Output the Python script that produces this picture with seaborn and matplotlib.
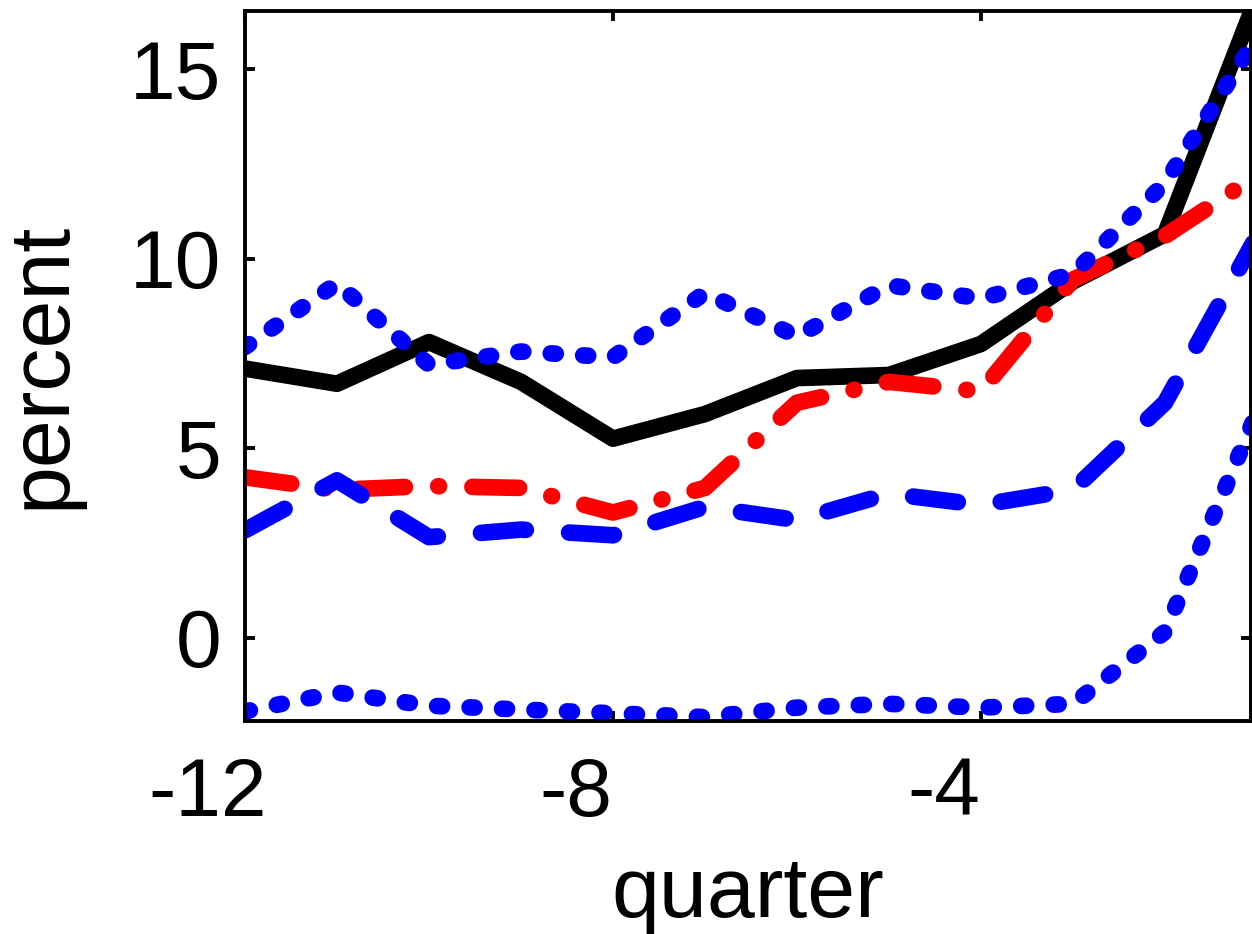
import pandas as pd
import seaborn as sns
import matplotlib.transforms as mtransforms
from matplotlib import pyplot as plt

# quarters before the event and the five series (percent)
quarters = [-12, -11, -10, -9, -8, -7, -6, -5, -4, -3, -2, -1]
black_solid = [7.1, 6.7, 7.8, 6.75, 5.25, 5.9, 6.85, 6.93, 7.75, 9.4, 10.65, 16.9]
red_dashdot = [4.23, 3.9, 4.0, 3.95, 3.3, 3.95, 6.2, 6.75, 6.5, 9.45, 10.6, 12.2]
blue_dashed = [2.83, 4.15, 2.65, 2.85, 2.7, 3.45, 3.1, 3.8, 3.5, 3.9, 6.2, 10.6]
blue_upper = [7.67, 9.35, 7.2, 7.55, 7.4, 9.1, 7.95, 9.3, 8.95, 9.6, 12.0, 15.85]
blue_lower = [-1.95, -1.45, -1.8, -1.9, -2.0, -2.1, -1.85, -1.75, -1.85, -1.75, 0.15, 5.95]

series = {'black': black_solid, 'red': red_dashdot, 'dashed': blue_dashed,
          'upper': blue_upper, 'lower': blue_lower}
df = pd.concat([pd.DataFrame({'quarter': quarters, 'value': v, 'series': k})
                for k, v in series.items()], ignore_index=True)

colors = {'black': 'black', 'red': '#ff0000', 'dashed': '#0000ff',
          'upper': '#0000ff', 'lower': '#0000ff'}
dashes = {'black': '', 'red': (2.8, 2.0, 0.05, 2.0), 'dashed': (2.7, 2.6),
          'upper': (0.3, 1.65), 'lower': (0.3, 1.65)}

sns.set_style('ticks')
plt.rcParams['font.family'] = ['Liberation Sans', 'DejaVu Sans']
plt.rcParams['axes.unicode_minus'] = False
plt.rcParams['text.color'] = 'black'
plt.rcParams['axes.labelcolor'] = 'black'
plt.rcParams['axes.edgecolor'] = 'black'
plt.rcParams['xtick.color'] = 'black'
plt.rcParams['ytick.color'] = 'black'
plt.rcParams['lines.dash_capstyle'] = 'round'
plt.rcParams['lines.solid_capstyle'] = 'round'
plt.rcParams['lines.dash_joinstyle'] = 'round'
plt.rcParams['lines.solid_joinstyle'] = 'round'

fig = plt.figure(figsize=(12.52, 9.34), dpi=100)
ax = fig.add_axes([245/1252, 1 - 720.5/934, 1006/1252, 709.5/934])

sns.lineplot(data=df, x='quarter', y='value', hue='series', style='series',
             hue_order=list(series), style_order=list(series),
             palette=colors, dashes=dashes, linewidth=12, legend=False, ax=ax)

ax.set_xlim(-12, -1.065)
ax.set_ylim(-2.19, 16.54)
ax.set_xticks([-12, -8, -4])
ax.set_yticks([0, 5, 10, 15])
ax.tick_params(direction='in', length=7, width=2.8, labelsize=59,
               top=True, right=True)
ax.tick_params(axis='x', pad=26)
ax.tick_params(axis='y', pad=17)
for s in ax.spines.values():
    s.set_linewidth(2.8)
    s.set_visible(True)

# x tick labels sit a little left of their ticks in the original
shift = mtransforms.ScaledTranslation(-0.37, 0, fig.dpi_scale_trans)
for lab in ax.get_xticklabels():
    lab.set_transform(lab.get_transform() + shift)

ax.set_xlabel('quarter', fontsize=62, labelpad=16)
ax.set_ylabel('percent', fontsize=62, labelpad=34)

plt.savefig('out.png', dpi=100)
